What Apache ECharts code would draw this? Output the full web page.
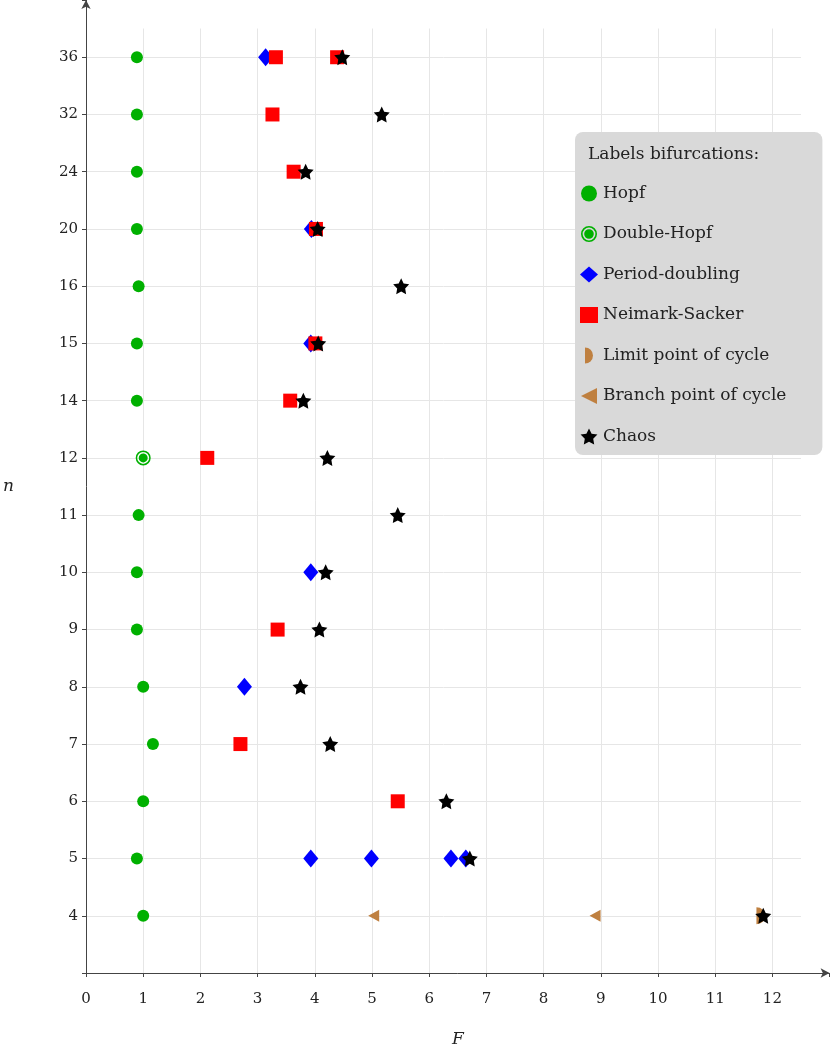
<!DOCTYPE html>
<html>
<head>
<meta charset="utf-8">
<script src="https://cdn.jsdelivr.net/npm/echarts@6/dist/echarts.min.js"></script>
<style>
  html, body { margin: 0; padding: 0; background: #fff; }
  #chart { width: 831px; height: 1050px; }
</style>
</head>
<body>
<div id="chart"></div>
<script>
// n values on the vertical axis (equally spaced rows)
const nLabels = ['4', '5', '6', '7', '8', '9', '10', '11', '12', '14', '15', '16', '20', '24', '32', '36']
const xTicks = [0, 1, 2, 3, 4, 5, 6, 7, 8, 9, 10, 11, 12]

// [F, n]
const hopf = [[1.0, 4], [0.89, 5], [1.0, 6], [1.17, 7], [1.0, 8], [0.89, 9], [0.89, 10], [0.92, 11],
  [0.89, 14], [0.89, 15], [0.92, 16], [0.89, 20], [0.89, 24], [0.89, 32], [0.89, 36]]
const doubleHopf = [[1.0, 12]]
const periodDoubling = [[3.93, 5], [4.99, 5], [6.38, 5], [6.64, 5], [2.77, 8], [3.93, 10], [3.93, 15],
  [3.94, 20], [3.14, 36]]
const neimarkSacker = [[5.45, 6], [2.7, 7], [3.35, 9], [2.12, 12], [3.57, 14], [4.01, 15], [4.02, 20],
  [3.63, 24], [3.26, 32], [3.32, 36], [4.39, 36]]
const limitPoint = [[11.8, 4]]
const branchPoint = [[5.03, 4], [8.9, 4]]
const chaos = [[11.84, 4], [6.71, 5], [6.3, 6], [4.27, 7], [3.75, 8], [4.08, 9], [4.19, 10], [5.45, 11],
  [4.22, 12], [3.8, 14], [4.06, 15], [5.51, 16], [4.05, 20], [3.84, 24], [5.17, 32], [4.48, 36]]

const FONT = 'DejaVu Serif'
const GREEN = '#00b000'
const BROWN = '#bf8040'

const ringPath = 'path://M0,-10 A10,10 0 1 1 0,10 A10,10 0 1 1 0,-10 Z ' +
  'M0,-8 A8,8 0 1 0 0,8 A8,8 0 1 0 0,-8 Z ' +
  'M0,-6 A6,6 0 1 1 0,6 A6,6 0 1 1 0,-6 Z'
const halfDiskPath = 'path://M0,-10 A10,10 0 0 1 0,10 Z'
const leftTrianglePath = 'path://M-10,0 L8,-9 L8,9 Z'
const starPath = 'path://M0,-10 L2.94,-4.05 L9.51,-3.09 L4.76,1.55 L5.88,8.09 L0,5 L-5.88,8.09 ' +
  'L-4.76,1.55 L-9.51,-3.09 L-2.94,-4.05 Z'

const toRow = pts => pts.map(p => [p[0], nLabels.indexOf(String(p[1]))])

const mkSeries = (name, data, symbol, size, color) => ({
  name,
  type: 'scatter',
  xAxisIndex: 1,
  yAxisIndex: 1,
  data: toRow(data),
  symbol,
  symbolSize: size,
  itemStyle: { color, opacity: 1 },
  emphasis: { disabled: true }
})

const chart = echarts.init(document.getElementById('chart'), null, { renderer: 'canvas' })

chart.setOption({
  animation: false,
  backgroundColor: '#fff',
  title: {
    text: 'Labels bifurcations:',
    left: 583,
    top: 141,
    textStyle: { fontFamily: FONT, fontSize: 17, fontWeight: 'normal', color: '#222' }
  },
  legend: {
    orient: 'vertical',
    left: 575,
    top: 132,
    padding: [53, 36, 10, 5],
    itemWidth: 18,
    itemHeight: 16,
    itemGap: 23.5,
    backgroundColor: '#d9d9d9',
    borderRadius: 8,
    selectedMode: false,
    textStyle: { fontFamily: FONT, fontSize: 17, color: '#222' },
    data: ['Hopf', 'Double-Hopf', 'Period-doubling', 'Neimark-Sacker', 'Limit point of cycle',
      'Branch point of cycle', 'Chaos']
  },
  grid: [
    // gridlines only
    { left: 86, width: 715, top: 28.5, bottom: 77, outerBoundsMode: 'none', containLabel: false },
    // axes with arrows, ticks and labels
    { left: 86, width: 743.6, top: 0, bottom: 77, outerBoundsMode: 'none', containLabel: false }
  ],
  xAxis: [
    {
      gridIndex: 0, type: 'value', min: 0, max: 12.5, interval: 1,
      axisLine: { show: false }, axisTick: { show: false }, axisLabel: { show: false },
      splitLine: { show: true, showMinLine: false, showMaxLine: false, lineStyle: { color: '#e6e6e6', width: 1 } }
    },
    {
      gridIndex: 1, type: 'value', min: 0, max: 13, interval: 1,
      name: 'F', nameLocation: 'middle', nameGap: 58,
      nameTextStyle: { fontFamily: FONT, fontStyle: 'italic', fontSize: 17, color: '#222' },
      axisLine: {
        show: true, onZero: false, symbol: ['none', 'arrow'], symbolSize: [7, 9],
        lineStyle: { color: '#444', width: 1 }
      },
      axisTick: { show: true, length: 4, lineStyle: { color: '#444' } },
      axisLabel: {
        margin: 19, fontFamily: FONT, fontSize: 15, color: '#222',
        formatter: v => (xTicks.includes(v) ? String(v) : '')
      },
      splitLine: { show: false }
    }
  ],
  yAxis: [
    {
      gridIndex: 0, type: 'value', min: -1, max: 15.5, interval: 1,
      axisLine: { show: false }, axisTick: { show: false }, axisLabel: { show: false },
      splitLine: { show: true, showMinLine: false, showMaxLine: false, lineStyle: { color: '#e6e6e6', width: 1 } }
    },
    {
      gridIndex: 1, type: 'value', min: -1, max: 16, interval: 1,
      name: 'n', nameLocation: 'middle', nameGap: 72, nameRotate: 0,
      nameTextStyle: { fontFamily: FONT, fontStyle: 'italic', fontSize: 17, color: '#222', padding: [6, 0, 0, 0] },
      axisLine: {
        show: true, onZero: false, symbol: ['none', 'arrow'], symbolSize: [7, 9],
        lineStyle: { color: '#444', width: 1 }
      },
      axisTick: { show: true, length: 4, lineStyle: { color: '#444' } },
      axisLabel: {
        margin: 8, fontFamily: FONT, fontSize: 15, color: '#222',
        formatter: v => (nLabels[v] !== undefined ? nLabels[v] : '')
      },
      splitLine: { show: false }
    }
  ],
  series: [
    mkSeries('Hopf', hopf, 'circle', 12, GREEN),
    mkSeries('Double-Hopf', doubleHopf, ringPath, 15, GREEN),
    mkSeries('Period-doubling', periodDoubling, 'diamond', [15, 18], '#0000ff'),
    mkSeries('Neimark-Sacker', neimarkSacker, 'rect', 14, '#ff0000'),
    mkSeries('Limit point of cycle', limitPoint, halfDiskPath, [9, 17], BROWN),
    mkSeries('Branch point of cycle', branchPoint, leftTrianglePath, [11, 12], BROWN),
    mkSeries('Chaos', chaos, starPath, 16, '#000')
  ]
})

window.addEventListener('resize', () => chart.resize())
</script>
</body>
</html>
